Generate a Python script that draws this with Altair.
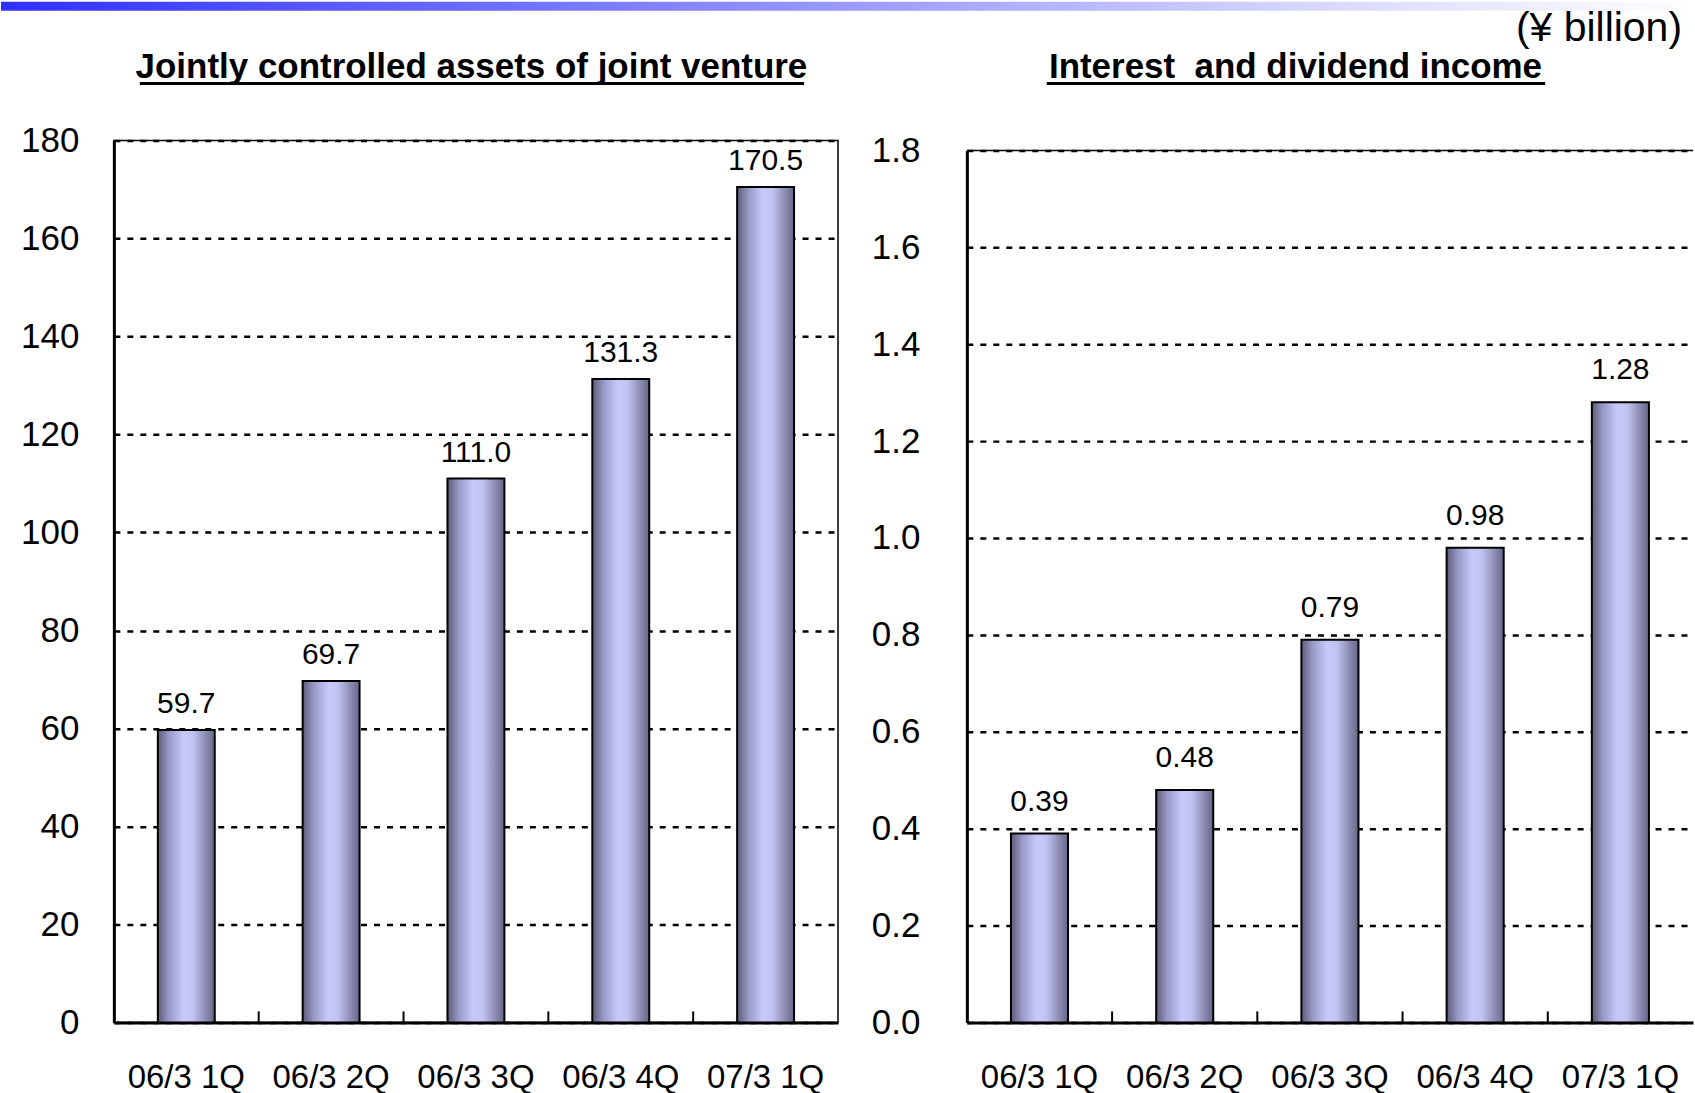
import altair as alt
import pandas as pd

# ---------------- data ----------------
categories = ["06/3 1Q", "06/3 2Q", "06/3 3Q", "06/3 4Q", "07/3 1Q"]
assets = [59.7, 69.7, 111.0, 131.3, 170.5]
assets_text = ["59.7", "69.7", "111.0", "131.3", "170.5"]
income = [0.39, 0.48, 0.79, 0.98, 1.28]
income_text = ["0.39", "0.48", "0.79", "0.98", "1.28"]
left_ticks = [0, 20, 40, 60, 80, 100, 120, 140, 160, 180]
right_ticks = [0.0, 0.2, 0.4, 0.6, 0.8, 1.0, 1.2, 1.4, 1.6, 1.8]
left_title = ["Jointly controlled assets of joint venture"]
right_title = ["Interest\u00a0 and dividend income"]
unit_text = ["(\u00a5 billion)"]

# ---------------- style ----------------
SANS = "Liberation Sans, Arial, sans-serif"
WL, WR, H = 725, 727, 883

bar_fill = alt.LinearGradient(
    gradient="linear",
    stops=[
        alt.GradientStop(color="#5c5c78", offset=0),
        alt.GradientStop(color="#9a9ac8", offset=0.2),
        alt.GradientStop(color="#c8c8fc", offset=0.45),
        alt.GradientStop(color="#c2c2f2", offset=0.62),
        alt.GradientStop(color="#8a8ab0", offset=0.85),
        alt.GradientStop(color="#66668a", offset=1),
    ],
    x1=0, x2=1, y1=0, y2=0,
)
stripe_fill = alt.LinearGradient(
    gradient="linear",
    stops=[
        alt.GradientStop(color="#3030ff", offset=0),
        alt.GradientStop(color="#a0a0ff", offset=0.53),
        alt.GradientStop(color="#d6d6ff", offset=0.77),
        alt.GradientStop(color="#ffffff", offset=1),
    ],
    x1=0, x2=1, y1=0, y2=0,
)


def panel(values, texts, ticks, ymax, yrange, width, fmt, label_pad, dy, title, title_x,
          ul_x1, ul_x2, frame):
    df = pd.DataFrame({"cat": categories, "val": values, "lab": texts})
    xenc = alt.X(
        "cat:N", sort=categories,
        scale=alt.Scale(paddingInner=0, paddingOuter=0),
        axis=alt.Axis(title=None, labelAngle=0, ticks=False, grid=False,
                      domainColor="black", domainWidth=3,
                      labelFont=SANS, labelFontSize=33, labelColor="black",
                      labelPadding=39, labelLimit=400),
    )
    yenc = alt.Y(
        "val:Q",
        scale=alt.Scale(domain=[0, ymax], range=yrange, nice=False),
        axis=alt.Axis(title=None, values=ticks, format=fmt, ticks=False,
                      domainColor="black", domainWidth=3,
                      grid=True, gridColor="black", gridDash=[6, 7], gridWidth=2.5,
                      labelFont=SANS, labelFontSize=35, labelColor="black",
                      labelPadding=label_pad, labelBaseline="middle"),
    )
    bars = alt.Chart(df).mark_bar(
        fill=bar_fill, stroke="black", strokeWidth=2,
        width=alt.RelativeBandSize(0.393),
    ).encode(x=xenc, y=yenc)
    labels = alt.Chart(df).mark_text(
        font=SANS, fontSize=30, color="black", baseline="alphabetic", dy=dy,
    ).encode(x=alt.X("cat:N", sort=categories), y="val:Q", text="lab:N")
    band_ticks = alt.Chart(df.iloc[:4]).mark_rule(color="black", strokeWidth=2).encode(
        x=alt.X("cat:N", sort=categories, bandPosition=1),
        y=alt.value(H), y2=alt.value(H - 11),
    )
    ttl = alt.Chart(pd.DataFrame({"t": title})).mark_text(
        font=SANS, fontSize=35, fontWeight="bold", color="black",
        align="center", baseline="middle",
    ).encode(text="t:N", x=alt.value(title_x), y=alt.value(-74))
    underline = alt.Chart(pd.DataFrame({"t": title})).mark_rule(
        color="black", strokeWidth=3,
    ).encode(x=alt.value(ul_x1), x2=alt.value(ul_x2), y=alt.value(-57))
    layers = [bars, band_ticks, labels, ttl, underline]
    if not frame:
        top = alt.Chart(pd.DataFrame({"t": title})).mark_rule(
            color="black", strokeWidth=1.5,
        ).encode(x=alt.value(0), x2=alt.value(width), y=alt.datum(ymax))
        layers.append(top)
    return layers


left_layers = panel(assets, assets_text, left_ticks, 180, [H, 0], WL, "d", 35, -17,
                    left_title, 358, 26, 691, True)
stripe = alt.Chart(pd.DataFrame({"s": [0]})).mark_rect(fill=stripe_fill).encode(
    x=alt.value(-113), x2=alt.value(1582), y=alt.value(-139), y2=alt.value(-130),
)
left = alt.layer(stripe, *left_layers).properties(
    width=WL, height=H,
    view=alt.ViewBackground(stroke="black", strokeWidth=1.5),
)

right_layers = panel(income, income_text, right_ticks, 1.8, [H, 10], WR, ".1f", 47, -23,
                     right_title, 329, 80, 579, False)
unit = alt.Chart(pd.DataFrame({"t": unit_text})).mark_text(
    font=SANS, fontSize=41, color="black", align="right", baseline="middle",
).encode(text="t:N", x=alt.value(716), y=alt.value(-112))
right = alt.layer(*right_layers, unit).properties(
    width=WR, height=H,
    view=alt.ViewBackground(stroke="transparent"),
)

chart = alt.hconcat(left, right, spacing=129, bounds="flush").properties(
    padding={"left": 0, "top": 0, "right": 0, "bottom": -2},
    background="white",
)

chart.save("out.html", embed_options={"renderer": "svg", "actions": False})
